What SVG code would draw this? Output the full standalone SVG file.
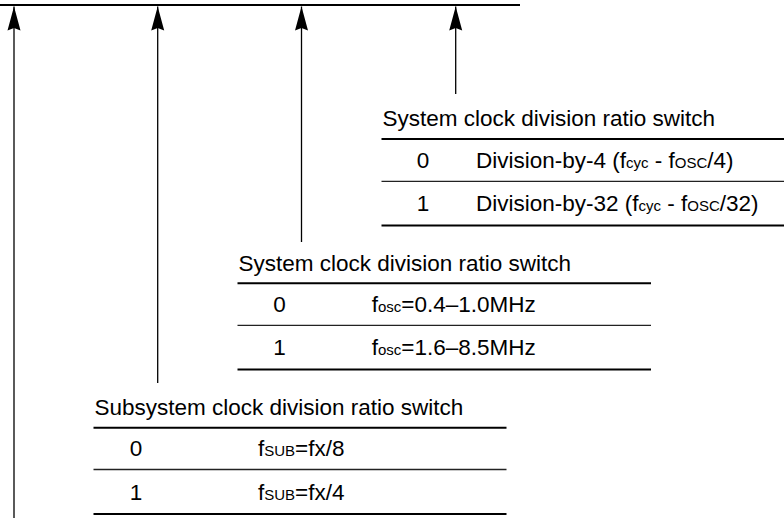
<svg xmlns="http://www.w3.org/2000/svg" width="784" height="525" viewBox="0 0 784 525">
  <style>
    text { font-family: "Liberation Sans", Arial, sans-serif; font-size: 22.5px; fill: #000; }
    .num { text-anchor: middle; }
    .sub { font-size: 15px; }
    .rule { stroke: #000; stroke-width: 2; fill: none; }
    .thin { stroke: #222; stroke-width: 1.3; fill: none; }
    .bus { stroke: #000; stroke-width: 2.2; fill: none; }
    .arrow { stroke: #000; stroke-width: 1.3; fill: none; marker-end: url(#head); }
  </style>
  <defs>
    <marker id="head" markerUnits="userSpaceOnUse" markerWidth="25" markerHeight="14" viewBox="0 0 25 14" refX="24" refY="7" orient="auto">
      <path d="M0,0.5 L24,7 L0,13.5 L2.5,7 Z" fill="#000"/>
    </marker>
  </defs>

  <g id="register-bus">
    <line class="bus" x1="0" y1="5" x2="520" y2="5"/>
  </g>

  <g id="connectors">
    <line class="arrow" x1="14" y1="518" x2="14" y2="6.5"/>
    <line class="arrow" x1="157.7" y1="383" x2="157.7" y2="6.5"/>
    <line class="arrow" x1="301.5" y1="242" x2="301.5" y2="6.5"/>
    <line class="arrow" x1="455.7" y1="94" x2="455.7" y2="6.5"/>
  </g>

  <g id="table-cycle-clock">
    <text x="382.5" y="126">System clock division ratio switch</text>
    <line class="rule" x1="381.5" y1="139" x2="794" y2="139"/>
    <text class="num" x="423" y="167.5">0</text>
    <text x="476" y="167.5">Division-by-4 (f<tspan class="sub">cyc</tspan> - f<tspan class="sub">OSC</tspan>/4)</text>
    <line class="thin" x1="381.5" y1="181.3" x2="794" y2="181.3"/>
    <text class="num" x="423" y="211">1</text>
    <text x="476" y="211">Division-by-32 (f<tspan class="sub">cyc</tspan> - f<tspan class="sub">OSC</tspan>/32)</text>
    <line class="rule" x1="381.5" y1="225.5" x2="794" y2="225.5"/>
  </g>

  <g id="table-system-clock">
    <text x="238.5" y="270.5">System clock division ratio switch</text>
    <line class="rule" x1="237.5" y1="283.3" x2="651" y2="283.3"/>
    <text class="num" x="279.5" y="311.8">0</text>
    <text x="371.7" y="311.8">f<tspan class="sub">osc</tspan>=0.4–1.0MHz</text>
    <line class="thin" x1="237.5" y1="325.3" x2="651" y2="325.3"/>
    <text class="num" x="279.5" y="355.3">1</text>
    <text x="371.7" y="355.3">f<tspan class="sub">osc</tspan>=1.6–8.5MHz</text>
    <line class="rule" x1="237.5" y1="369.6" x2="651" y2="369.6"/>
  </g>

  <g id="table-subsystem-clock">
    <text x="94.5" y="414.5">Subsystem clock division ratio switch</text>
    <line class="rule" x1="93.5" y1="427.7" x2="506.5" y2="427.7"/>
    <text class="num" x="136" y="456.2">0</text>
    <text x="258" y="456.2">f<tspan class="sub">SUB</tspan>=fx/8</text>
    <line class="thin" x1="93.5" y1="469.5" x2="506.5" y2="469.5"/>
    <text class="num" x="136" y="499.7">1</text>
    <text x="258" y="499.7">f<tspan class="sub">SUB</tspan>=fx/4</text>
    <line class="rule" x1="93.5" y1="514" x2="506.5" y2="514"/>
  </g>
</svg>
